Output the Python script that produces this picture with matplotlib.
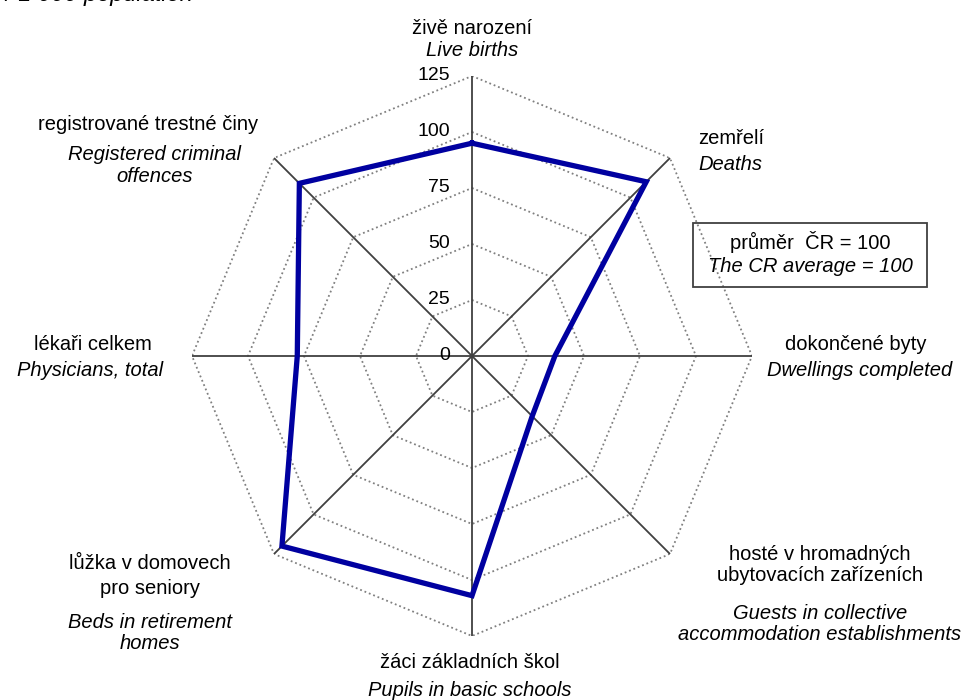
import numpy as np
import matplotlib.pyplot as plt

plt.rcParams['font.family'] = ['Liberation Sans', 'DejaVu Sans']

# ukazatele (po směru hodinových ručiček od vrcholu)
categories_cz = ['živě narození', 'zemřelí', 'dokončené byty',
                 'hosté v hromadných\nubytovacích zařízeních', 'žáci základních škol',
                 'lůžka v domovech\npro seniory', 'lékaři celkem', 'registrované trestné činy']
categories_en = ['Live births', 'Deaths', 'Dwellings completed',
                 'Guests in collective\naccommodation establishments', 'Pupils in basic schools',
                 'Beds in retirement\nhomes', 'Physicians, total', 'Registered criminal\noffences']
values = [95, 110, 37, 38, 107, 120, 78, 109]
rings = [25, 50, 75, 100, 125]
ring_labels = ['0', '25', '50', '75', '100', '125']

n = len(values)
theta = np.arange(n) * 2 * np.pi / n
theta_c = np.append(theta, theta[0])

fig = plt.figure(figsize=(9.76, 7), dpi=100)
ax = fig.add_axes([192 / 976, 64 / 700, 560 / 976, 560 / 700], projection='polar')
ax.set_theta_zero_location('N')
ax.set_theta_direction(-1)
ax.set_ylim(0, 125)
ax.axis('off')

# mřížka - osmiúhelníky
for r in rings:
    ax.plot(theta_c, [r] * (n + 1), color='#808080', lw=1.3, ls=(0, (1, 1.6)), zorder=1)
# paprsky
for t in theta:
    ax.plot([t, t], [0, 125], color='#404040', lw=1.3, zorder=2)

ax.plot(theta_c, np.append(values, values[0]), color='#0000A0', lw=3.8,
        solid_joinstyle='miter', zorder=3)

# popisky osy
for lab, r in zip(ring_labels, [0] + rings):
    ax.annotate(lab, (0, r), xytext=(-16, 0), textcoords='offset points',
                ha='right', va='center', fontsize=14)

fs = 14.5
def txt(x, y, s, italic=False, ha='center', ls=1.2):
    fig.text(x / 976, 1 - y / 700, s, ha=ha, va='center', fontsize=fs,
             style='italic' if italic else 'normal', linespacing=ls,
             multialignment='center')

txt(472, 29, categories_cz[0])
txt(472, 51, categories_en[0], True)
txt(698, 138, categories_cz[1], ha='left')
txt(698, 165, categories_en[1], True, ha='left')
txt(856, 345, categories_cz[2])
txt(860, 371, categories_en[2], True)
txt(820, 565, categories_cz[3], ls=1.15)
txt(820, 624, categories_en[3], True, ls=1.15)
txt(470, 663, categories_cz[4])
txt(470, 690, categories_en[4], True)
txt(150, 576, categories_cz[5], ls=1.35)
txt(150, 633, categories_en[5], True, ls=1.15)
txt(93, 345, categories_cz[6])
txt(90, 371, categories_en[6], True)
txt(258, 125, categories_cz[7], ha='right')
txt(155, 165, categories_en[7], True, ls=1.2)

# legenda - průměr
txt(810, 242, 'průměr  ČR = 100')
txt(810, 267, 'The CR average = 100', True)
fig.patches.append(plt.Rectangle((693 / 976, 1 - 287 / 700), 234 / 976, 64 / 700,
                                 transform=fig.transFigure, fill=False, ec='#404040', lw=1.3))

fig.text(193 / 976, 1 - 1 / 700, '/ 1 000 population', ha='right', va='baseline',
         fontsize=17, style='italic')

fig.savefig('out.png', dpi=100)
